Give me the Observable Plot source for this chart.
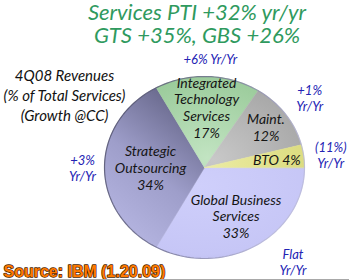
<!DOCTYPE html>
<html><head><meta charset="utf-8">
<script src="https://cdn.jsdelivr.net/npm/d3@7"></script>
<script src="https://cdn.jsdelivr.net/npm/@observablehq/plot@0.6"></script>
<style>
body{margin:0;background:#fff;}
#chart svg{display:block;}
</style>
</head><body>
<svg width="0" height="0" style="position:absolute">
<defs>
<radialGradient id="gGBS" cx="0.3" cy="0.2" r="1">
<stop offset="0" stop-color="#cfcffb"/><stop offset="0.75" stop-color="#c6c6f6"/><stop offset="1" stop-color="#b4b4e6"/>
</radialGradient>
<linearGradient id="gSO" x1="0.3" y1="1" x2="0.8" y2="0">
<stop offset="0" stop-color="#b6b6e2"/><stop offset="0.45" stop-color="#9e9eca"/><stop offset="1" stop-color="#5e5e80"/>
</linearGradient>
<radialGradient id="gITS" cx="0.5" cy="0.9" r="0.9">
<stop offset="0" stop-color="#c2e4c2"/><stop offset="1" stop-color="#9ccc9c"/>
</radialGradient>
<radialGradient id="gMaint" cx="0.1" cy="0.9" r="1">
<stop offset="0" stop-color="#c8c8c8"/><stop offset="1" stop-color="#a8a8a8"/>
</radialGradient>
<linearGradient id="gBTO" x1="0" y1="0" x2="1" y2="0">
<stop offset="0" stop-color="#ececa4"/><stop offset="1" stop-color="#dcdc80"/>
</linearGradient>
<linearGradient id="gRim" x1="0" y1="0" x2="1" y2="0.3">
<stop offset="0" stop-color="#45455e"/><stop offset="0.5" stop-color="#6a6a8a"/><stop offset="1" stop-color="#b8b8d8"/>
</linearGradient>
</defs></svg>
<div id="chart"></div>
<script>
// ---- data ----
const keys = ["GBS", "SO", "ITS", "Maint", "BTO"];
const names = ["Global Business\nServices", "Strategic\nOutsourcing", "Integrated\nTechnology\nServices", "Maint.", "BTO"];
const shares = [33, 34, 17, 12, 4];
const growth = ["Flat\nYr/Yr", "+3%\nYr/Yr", "+6% Yr/Yr", "+1%\nYr/Yr", "(11%)\nYr/Yr"];
const titleLines = ["Services PTI +32% yr/yr", "GTS +35%, GBS +26%"];
const noteLines = ["4Q08 Revenues", "(% of Total Services)", "(Growth @CC)"];
const sourceText = "Source: IBM (1.20.09)";

// ---- layout (label placement relative to slice mid-angles) ----
const innerR = [0.62, 0.54, 0.66, 0.76, 0.73];
const outerR = [1.36, 1.22, 1.2, 1.3, 1.27];
const outerNudge = [-10, 0, 1, 0, 1]; // degrees

const rows = keys.map((k, i) => ({key: k, name: names[i], share: shares[i], growth: growth[i], i}));
const pie = d3.pie().sort(null).value(d => d.share)
  .startAngle(Math.PI / 2).endAngle(Math.PI / 2 + 2 * Math.PI);
const arcs = pie(rows);

const poly = arcs.flatMap(a => {
  const pts = [{key: a.data.key, x: 0, y: 0}];
  const n = Math.ceil((a.endAngle - a.startAngle) / (Math.PI / 180));
  for (let j = 0; j <= n; j++) {
    const t = a.startAngle + (a.endAngle - a.startAngle) * j / n;
    pts.push({key: a.data.key, x: Math.sin(t), y: Math.cos(t)});
  }
  return pts;
});
const rim = d3.range(0, 361, 2).map(d => ({x: Math.sin(d * Math.PI / 180), y: Math.cos(d * Math.PI / 180)}));

const inner = arcs.map(a => {
  const m = (a.startAngle + a.endAngle) / 2, r = innerR[a.data.i];
  const sep = a.data.key === "BTO" ? " " : "\n";
  return {x: r * Math.sin(m), y: r * Math.cos(m), text: `${a.data.name}${sep}${a.data.share}%`};
});
const outer = arcs.map(a => {
  const m = (a.startAngle + a.endAngle) / 2 + outerNudge[a.data.i] * Math.PI / 180, r = outerR[a.data.i];
  return {x: r * Math.sin(m), y: r * Math.cos(m), text: a.data.growth};
});

const yDomain = [-1.242, 1.835];
const font = "Lato, 'Open Sans', sans-serif";
const titleStyle = {frameAnchor: "top", lineAnchor: "top", dx: 22, fontSize: 22, fontStyle: "italic", fontFamily: font, fill: "#2f9a5e"};

const chart = Plot.plot({
  width: 349, height: 280, margin: 0,
  x: {domain: [-2.04, 1.45], axis: null},
  y: {domain: yDomain, axis: null},
  color: {domain: keys, range: keys.map(k => `url(#g${k})`)},
  style: {background: "#fff", overflow: "visible"},
  marks: [
    Plot.line(poly, {x: "x", y: "y", z: "key", fill: "key", stroke: "key", strokeWidth: 0.6, curve: "linear-closed"}),
    Plot.line(rim, {x: "x", y: "y", stroke: "url(#gRim)", strokeWidth: 1.2, strokeOpacity: 0.8}),
    Plot.text(inner, {x: "x", y: "y", text: "text", fontSize: 14, fontStyle: "italic", fontFamily: font, fill: "#151515", lineHeight: 1.2}),
    Plot.text(outer, {x: "x", y: "y", text: "text", fontSize: 13, fontStyle: "italic", fontFamily: font, fill: "#2323b4", lineHeight: 1.25}),
    Plot.text([titleLines[0]], {...titleStyle, dy: 4}),
    Plot.text([titleLines[1]], {...titleStyle, dy: 27}),
    Plot.text([noteLines.join("\n")], {frameAnchor: "top-left", textAnchor: "middle", dx: 64, dy: 66, fontSize: 15, fontStyle: "italic", fontFamily: font, fill: "#111", lineHeight: 1.33}),
    Plot.text([sourceText], {frameAnchor: "bottom-left", textAnchor: "start", dx: 3, dy: -4, fontSize: 16, fontWeight: "bold", fontFamily: "'Liberation Sans', Arial, sans-serif", fill: "#ff7a00", stroke: "#4a1e00", strokeWidth: 1.4, letterSpacing: -0.6}),
    Plot.ruleY([yDomain[0]], {stroke: "#a8a8a8", dy: -1})
  ]
});
document.getElementById("chart").append(chart);
</script>
</body></html>
